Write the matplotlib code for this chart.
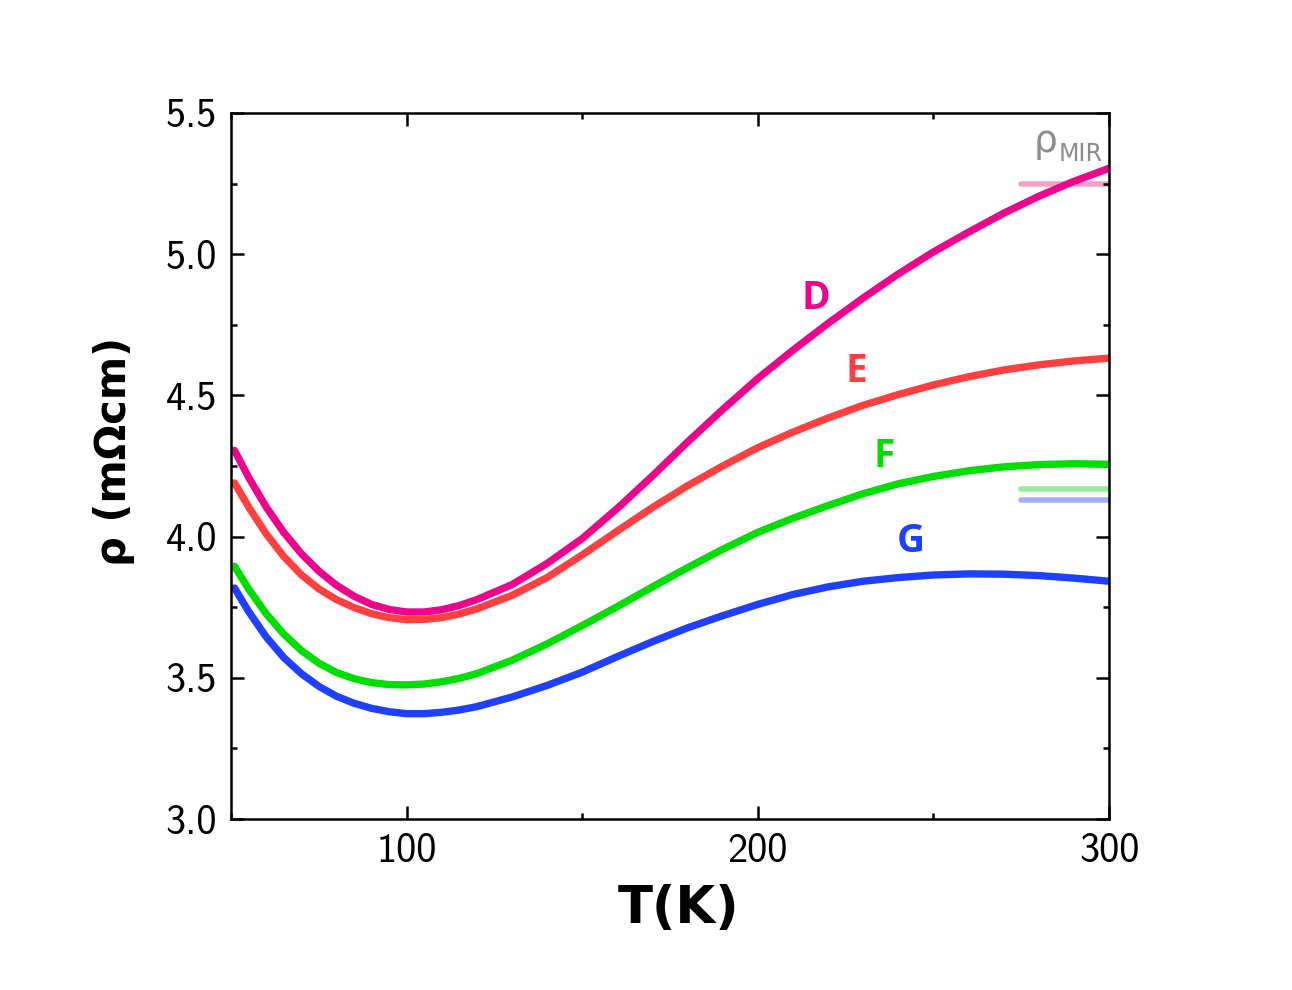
import matplotlib
matplotlib.use('Agg')
import matplotlib.pyplot as plt
from matplotlib.ticker import MultipleLocator, FormatStrFormatter

# resistivity curves (T in K, rho in mOhm cm)
T = [51, 55, 60, 65, 70, 75, 80, 85, 90, 95, 100, 105, 110, 115, 120, 130, 140,
     150, 160, 170, 180, 190, 200, 210, 220, 230, 240, 250, 260, 270, 280, 290, 300]
rho_D = [4.305, 4.21, 4.105, 4.015, 3.94, 3.878, 3.828, 3.789, 3.760, 3.742, 3.733,
         3.733, 3.741, 3.756, 3.777, 3.83, 3.905, 3.993, 4.10, 4.215, 4.335, 4.45,
         4.56, 4.66, 4.755, 4.845, 4.93, 5.008, 5.078, 5.145, 5.205, 5.258, 5.304]
rho_E = [4.19, 4.105, 4.01, 3.93, 3.865, 3.815, 3.777, 3.749, 3.727, 3.713, 3.706,
         3.707, 3.713, 3.726, 3.744, 3.792, 3.855, 3.935, 4.02, 4.103, 4.18, 4.25,
         4.315, 4.37, 4.42, 4.465, 4.503, 4.537, 4.566, 4.59, 4.608, 4.622, 4.632]
rho_F = [3.895, 3.815, 3.727, 3.655, 3.597, 3.552, 3.519, 3.497, 3.483, 3.476, 3.475,
         3.478, 3.486, 3.498, 3.515, 3.562, 3.62, 3.685, 3.752, 3.822, 3.89, 3.955,
         4.015, 4.065, 4.11, 4.152, 4.187, 4.213, 4.233, 4.247, 4.255, 4.258, 4.256]
rho_G = [3.818, 3.735, 3.645, 3.572, 3.515, 3.47, 3.435, 3.41, 3.392, 3.38, 3.373,
         3.373, 3.378, 3.386, 3.398, 3.432, 3.473, 3.52, 3.575, 3.628, 3.677, 3.72,
         3.76, 3.795, 3.822, 3.842, 3.855, 3.864, 3.868, 3.867, 3.862, 3.853, 3.842]

# Mott-Ioffe-Regel limits (short marks at the right edge)
mir_T = [275, 300]
mir_D = 5.25
mir_F = 4.17
mir_G = 4.13

fig = plt.figure(figsize=(12.92, 9.9), dpi=100)
ax = fig.add_axes([0.1788, 0.1727, 0.6796, 0.7132])

ax.plot(mir_T, [mir_D, mir_D], color='#f7a0c8', lw=4, solid_capstyle='round', zorder=1)
ax.plot(mir_T, [mir_F, mir_F], color='#98ee98', lw=4, solid_capstyle='round', zorder=1)
ax.plot(mir_T, [mir_G, mir_G], color='#a3affa', lw=4, solid_capstyle='round', zorder=1)

ax.plot(T, rho_D, color='#ec058c', lw=5.3, solid_capstyle='round', zorder=2)
ax.plot(T, rho_E, color='#ff4040', lw=5.3, solid_capstyle='round', zorder=2)
ax.plot(T, rho_F, color='#00dd00', lw=5.3, solid_capstyle='round', zorder=2)
ax.plot(T, rho_G, color='#2040ff', lw=5.3, solid_capstyle='round', zorder=2)

lab_kw = dict(fontsize=28, fontweight='bold', family='Open Sans', ha='center', va='center')
ax.text(216.6, 4.842, 'D', color='#ec058c', **lab_kw)
ax.text(228.0, 4.584, 'E', color='#ff4040', **lab_kw)
ax.text(235.9, 4.283, 'F', color='#00dd00', **lab_kw)
ax.text(243.6, 3.982, 'G', color='#2040ff', **lab_kw)
# rho_MIR label: upright rho with a smaller MIR subscript
ax.text(281.8, 5.36, 'ρ', color='#8c8c8c', fontsize=27, ha='center', va='baseline')
ax.text(291.8, 5.33, 'MIR', color='#8c8c8c', fontsize=17, ha='center', va='baseline')

ax.set_xlim(50, 300)
ax.set_ylim(3.0, 5.5)
ax.xaxis.set_major_locator(MultipleLocator(100))
ax.xaxis.set_minor_locator(MultipleLocator(50))
ax.yaxis.set_major_locator(MultipleLocator(0.5))
ax.yaxis.set_minor_locator(MultipleLocator(0.25))
ax.yaxis.set_major_formatter(FormatStrFormatter('%.1f'))

ax.tick_params(which='both', direction='in', top=True, right=True, width=1.8)
ax.tick_params(which='major', length=9.5, pad=10)
ax.tick_params(which='minor', length=4.5)
for lab in ax.get_xticklabels() + ax.get_yticklabels():
    lab.set_family('cmss10')
    lab.set_fontsize(29)
for sp in ax.spines.values():
    sp.set_linewidth(1.8)

ax.set_xlabel('T(K)', fontsize=37, fontweight='bold', labelpad=10)
ax.xaxis.label.set_x(0.51)
ax.set_ylabel('ρ (mΩcm)', fontsize=30, fontweight='bold', labelpad=22)
ax.yaxis.label.set_y(0.52)

fig.savefig('out.png', dpi=100)
